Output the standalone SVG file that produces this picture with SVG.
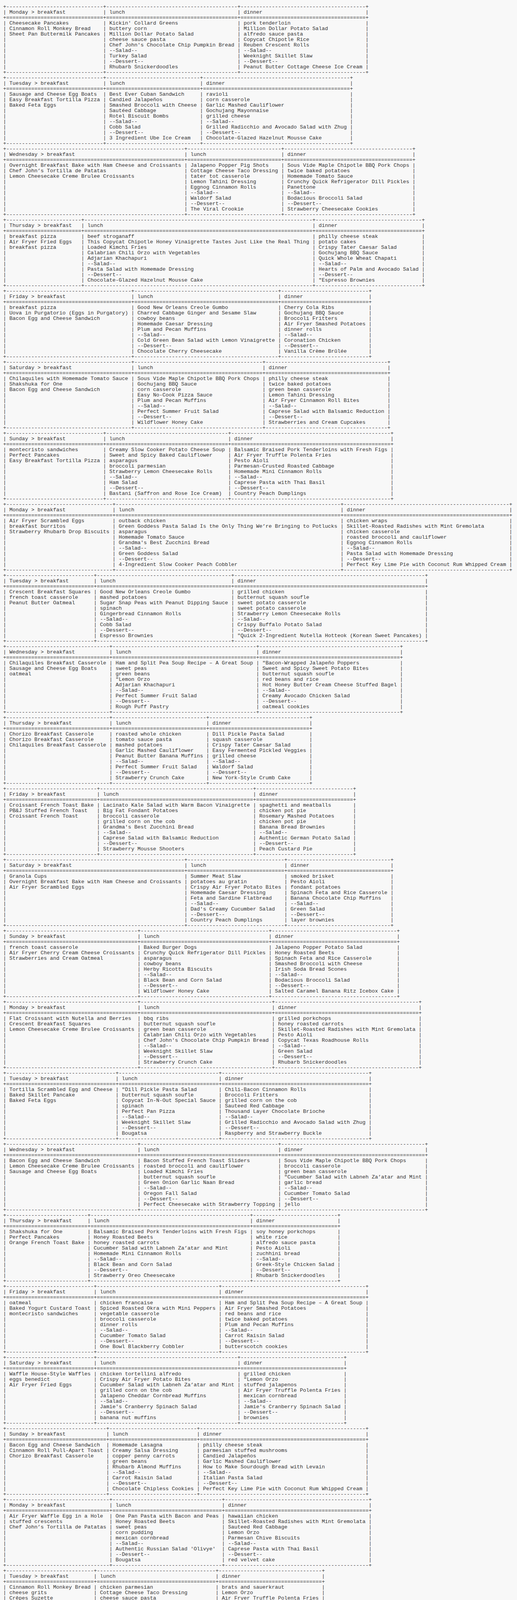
<svg xmlns="http://www.w3.org/2000/svg" xmlns:xlink="http://www.w3.org/1999/xlink" width="1324" height="5480" viewBox="0 0 1324 5480">
<style>
text { font-family: "Liberation Mono", "DejaVu Sans Mono", monospace; font-size: 13.333px; fill: #333333; }
</style>
<rect x="0" y="0" width="1324" height="5480" fill="#f8f8f8"/>
<g id="connectors"/>

<g id="w1-monday" transform="translate(0,0)">
<text id="w1-monday-border" y="21"><tspan x="8" textLength="256">+-------------------------------</tspan><tspan x="264" textLength="344">+------------------------------------------</tspan><tspan x="608" textLength="328">+----------------------------------------</tspan><tspan x="936">+</tspan></text>
<text y="35"><tspan x="8">| Monday &gt; breakfast</tspan><tspan x="264">| lunch</tspan><tspan x="608">| dinner</tspan><tspan x="936">|</tspan></text>
<text y="49"><tspan x="8" textLength="256">+===============================</tspan><tspan x="264" textLength="344">+==========================================</tspan><tspan x="608" textLength="328">+========================================</tspan><tspan x="936">+</tspan></text>
<text y="63"><tspan x="8">| Cheesecake Pancakes</tspan><tspan x="264">| Kickin' Collard Greens</tspan><tspan x="608">| pork tenderloin</tspan><tspan x="936">|</tspan></text>
<text y="77"><tspan x="8">| Cinnamon Roll Monkey Bread</tspan><tspan x="264">| buttery corn</tspan><tspan x="608">| Million Dollar Potato Salad</tspan><tspan x="936">|</tspan></text>
<text y="91"><tspan x="8">| Sheet Pan Buttermilk Pancakes</tspan><tspan x="264">| Million Dollar Potato Salad</tspan><tspan x="608">| alfredo sauce pasta</tspan><tspan x="936">|</tspan></text>
<text y="105"><tspan x="8">|</tspan><tspan x="264">| cheese sauce pasta</tspan><tspan x="608">| Copycat Chipotle Rice</tspan><tspan x="936">|</tspan></text>
<text y="119"><tspan x="8">|</tspan><tspan x="264">| Chef John's Chocolate Chip Pumpkin Bread</tspan><tspan x="608">| Reuben Crescent Rolls</tspan><tspan x="936">|</tspan></text>
<text y="133"><tspan x="8">|</tspan><tspan x="264">| --Salad--</tspan><tspan x="608">| --Salad--</tspan><tspan x="936">|</tspan></text>
<text y="147"><tspan x="8">|</tspan><tspan x="264">| Turkey Salad</tspan><tspan x="608">| Weeknight Skillet Slaw</tspan><tspan x="936">|</tspan></text>
<text y="161"><tspan x="8">|</tspan><tspan x="264">| --Dessert--</tspan><tspan x="608">| --Dessert--</tspan><tspan x="936">|</tspan></text>
<text y="175"><tspan x="8">|</tspan><tspan x="264">| Rhubarb Snickerdoodles</tspan><tspan x="608">| Peanut Butter Cottage Cheese Ice Cream</tspan><tspan x="936">|</tspan></text>
<use href="#w1-monday-border" y="168"/>
</g>

<g id="w1-tuesday" transform="translate(0,182)">
<text id="w1-tuesday-border" y="21"><tspan x="8" textLength="256">+-------------------------------</tspan><tspan x="264" textLength="248">+------------------------------</tspan><tspan x="512" textLength="384">+-----------------------------------------------</tspan><tspan x="896">+</tspan></text>
<text y="35"><tspan x="8">| Tuesday &gt; breakfast</tspan><tspan x="264">| lunch</tspan><tspan x="512">| dinner</tspan><tspan x="896">|</tspan></text>
<text y="49"><tspan x="8" textLength="256">+===============================</tspan><tspan x="264" textLength="248">+==============================</tspan><tspan x="512" textLength="384">+===============================================</tspan><tspan x="896">+</tspan></text>
<text y="63"><tspan x="8">| Sausage and Cheese Egg Boats</tspan><tspan x="264">| Best Ever Cuban Sandwich</tspan><tspan x="512">| ravioli</tspan><tspan x="896">|</tspan></text>
<text y="77"><tspan x="8">| Easy Breakfast Tortilla Pizza</tspan><tspan x="264">| Candied Jalapeños</tspan><tspan x="512">| corn casserole</tspan><tspan x="896">|</tspan></text>
<text y="91"><tspan x="8">| Baked Feta Eggs</tspan><tspan x="264">| Smashed Broccoli with Cheese</tspan><tspan x="512">| Garlic Mashed Cauliflower</tspan><tspan x="896">|</tspan></text>
<text y="105"><tspan x="8">|</tspan><tspan x="264">| Sautéed Cabbage</tspan><tspan x="512">| Gochujang Mayonnaise</tspan><tspan x="896">|</tspan></text>
<text y="119"><tspan x="8">|</tspan><tspan x="264">| Rotel Biscuit Bombs</tspan><tspan x="512">| grilled cheese</tspan><tspan x="896">|</tspan></text>
<text y="133"><tspan x="8">|</tspan><tspan x="264">| --Salad--</tspan><tspan x="512">| --Salad--</tspan><tspan x="896">|</tspan></text>
<text y="147"><tspan x="8">|</tspan><tspan x="264">| Cobb Salad</tspan><tspan x="512">| Grilled Radicchio and Avocado Salad with Zhug</tspan><tspan x="896">|</tspan></text>
<text y="161"><tspan x="8">|</tspan><tspan x="264">| --Dessert--</tspan><tspan x="512">| --Dessert--</tspan><tspan x="896">|</tspan></text>
<text y="175"><tspan x="8">|</tspan><tspan x="264">| 3 Ingredient Ube Ice Cream</tspan><tspan x="512">| Chocolate-Glazed Hazelnut Mousse Cake</tspan><tspan x="896">|</tspan></text>
<use href="#w1-tuesday-border" y="168"/>
</g>

<g id="w1-wednesday" transform="translate(0,364)">
<text id="w1-wednesday-border" y="21"><tspan x="8" textLength="464">+---------------------------------------------------------</tspan><tspan x="472" textLength="248">+------------------------------</tspan><tspan x="720" textLength="336">+-----------------------------------------</tspan><tspan x="1056">+</tspan></text>
<text y="35"><tspan x="8">| Wednesday &gt; breakfast</tspan><tspan x="472">| lunch</tspan><tspan x="720">| dinner</tspan><tspan x="1056">|</tspan></text>
<text y="49"><tspan x="8" textLength="464">+=========================================================</tspan><tspan x="472" textLength="248">+==============================</tspan><tspan x="720" textLength="336">+=========================================</tspan><tspan x="1056">+</tspan></text>
<text y="63"><tspan x="8">| Overnight Breakfast Bake with Ham Cheese and Croissants</tspan><tspan x="472">| Jalapeno Popper Pig Shots</tspan><tspan x="720">| Sous Vide Maple Chipotle BBQ Pork Chops</tspan><tspan x="1056">|</tspan></text>
<text y="77"><tspan x="8">| Chef John’s Tortilla de Patatas</tspan><tspan x="472">| Cottage Cheese Taco Dressing</tspan><tspan x="720">| twice baked potatoes</tspan><tspan x="1056">|</tspan></text>
<text y="91"><tspan x="8">| Lemon Cheesecake Creme Brulee Croissants</tspan><tspan x="472">| tater tot casserole</tspan><tspan x="720">| Homemade Tomato Sauce</tspan><tspan x="1056">|</tspan></text>
<text y="105"><tspan x="8">|</tspan><tspan x="472">| Lemon Tahini Dressing</tspan><tspan x="720">| Crunchy Quick Refrigerator Dill Pickles</tspan><tspan x="1056">|</tspan></text>
<text y="119"><tspan x="8">|</tspan><tspan x="472">| Eggnog Cinnamon Rolls</tspan><tspan x="720">| Panettone</tspan><tspan x="1056">|</tspan></text>
<text y="133"><tspan x="8">|</tspan><tspan x="472">| --Salad--</tspan><tspan x="720">| --Salad--</tspan><tspan x="1056">|</tspan></text>
<text y="147"><tspan x="8">|</tspan><tspan x="472">| Waldorf Salad</tspan><tspan x="720">| Bodacious Broccoli Salad</tspan><tspan x="1056">|</tspan></text>
<text y="161"><tspan x="8">|</tspan><tspan x="472">| --Dessert--</tspan><tspan x="720">| --Dessert--</tspan><tspan x="1056">|</tspan></text>
<text y="175"><tspan x="8">|</tspan><tspan x="472">| The Viral Crookie</tspan><tspan x="720">| Strawberry Cheesecake Cookies</tspan><tspan x="1056">|</tspan></text>
<use href="#w1-wednesday-border" y="168"/>
</g>

<g id="w1-thursday" transform="translate(0,546)">
<text id="w1-thursday-border" y="21"><tspan x="8" textLength="200">+------------------------</tspan><tspan x="208" textLength="592">+-------------------------------------------------------------------------</tspan><tspan x="800" textLength="280">+----------------------------------</tspan><tspan x="1080">+</tspan></text>
<text y="35"><tspan x="8">| Thursday &gt; breakfast</tspan><tspan x="208">| lunch</tspan><tspan x="800">| dinner</tspan><tspan x="1080">|</tspan></text>
<text y="49"><tspan x="8" textLength="200">+========================</tspan><tspan x="208" textLength="592">+=========================================================================</tspan><tspan x="800" textLength="280">+==================================</tspan><tspan x="1080">+</tspan></text>
<text y="63"><tspan x="8">| breakfast pizza</tspan><tspan x="208">| beef stroganaff</tspan><tspan x="800">| philly cheese steak</tspan><tspan x="1080">|</tspan></text>
<text y="77"><tspan x="8">| Air Fryer Fried Eggs</tspan><tspan x="208">| This Copycat Chipotle Honey Vinaigrette Tastes Just Like the Real Thing</tspan><tspan x="800">| potato cakes</tspan><tspan x="1080">|</tspan></text>
<text y="91"><tspan x="8">| breakfast pizza</tspan><tspan x="208">| Loaded Kimchi Fries</tspan><tspan x="800">| Crispy Tater Caesar Salad</tspan><tspan x="1080">|</tspan></text>
<text y="105"><tspan x="8">|</tspan><tspan x="208">| Calabrian Chili Orzo with Vegetables</tspan><tspan x="800">| Gochujang BBQ Sauce</tspan><tspan x="1080">|</tspan></text>
<text y="119"><tspan x="8">|</tspan><tspan x="208">| Adjarian Khachapuri</tspan><tspan x="800">| Quick Whole Wheat Chapati</tspan><tspan x="1080">|</tspan></text>
<text y="133"><tspan x="8">|</tspan><tspan x="208">| --Salad--</tspan><tspan x="800">| --Salad--</tspan><tspan x="1080">|</tspan></text>
<text y="147"><tspan x="8">|</tspan><tspan x="208">| Pasta Salad with Homemade Dressing</tspan><tspan x="800">| Hearts of Palm and Avocado Salad</tspan><tspan x="1080">|</tspan></text>
<text y="161"><tspan x="8">|</tspan><tspan x="208">| --Dessert--</tspan><tspan x="800">| --Dessert--</tspan><tspan x="1080">|</tspan></text>
<text y="175"><tspan x="8">|</tspan><tspan x="208">| Chocolate-Glazed Hazelnut Mousse Cake</tspan><tspan x="800">| "Espresso Brownies</tspan><tspan x="1080">|</tspan></text>
<use href="#w1-thursday-border" y="168"/>
</g>

<g id="w1-friday" transform="translate(0,728)">
<text id="w1-friday-border" y="21"><tspan x="8" textLength="328">+----------------------------------------</tspan><tspan x="336" textLength="376">+----------------------------------------------</tspan><tspan x="712" textLength="232">+----------------------------</tspan><tspan x="944">+</tspan></text>
<text y="35"><tspan x="8">| Friday &gt; breakfast</tspan><tspan x="336">| lunch</tspan><tspan x="712">| dinner</tspan><tspan x="944">|</tspan></text>
<text y="49"><tspan x="8" textLength="328">+========================================</tspan><tspan x="336" textLength="376">+==============================================</tspan><tspan x="712" textLength="232">+============================</tspan><tspan x="944">+</tspan></text>
<text y="63"><tspan x="8">| breakfast pizza</tspan><tspan x="336">| Good New Orleans Creole Gumbo</tspan><tspan x="712">| Cherry Cola Ribs</tspan><tspan x="944">|</tspan></text>
<text y="77"><tspan x="8">| Uova in Purgatorio (Eggs in Purgatory)</tspan><tspan x="336">| Charred Cabbage Ginger and Sesame Slaw</tspan><tspan x="712">| Gochujang BBQ Sauce</tspan><tspan x="944">|</tspan></text>
<text y="91"><tspan x="8">| Bacon Egg and Cheese Sandwich</tspan><tspan x="336">| cowboy beans</tspan><tspan x="712">| Broccoli Fritters</tspan><tspan x="944">|</tspan></text>
<text y="105"><tspan x="8">|</tspan><tspan x="336">| Homemade Caesar Dressing</tspan><tspan x="712">| Air Fryer Smashed Potatoes</tspan><tspan x="944">|</tspan></text>
<text y="119"><tspan x="8">|</tspan><tspan x="336">| Plum and Pecan Muffins</tspan><tspan x="712">| dinner rolls</tspan><tspan x="944">|</tspan></text>
<text y="133"><tspan x="8">|</tspan><tspan x="336">| --Salad--</tspan><tspan x="712">| --Salad--</tspan><tspan x="944">|</tspan></text>
<text y="147"><tspan x="8">|</tspan><tspan x="336">| Cold Green Bean Salad with Lemon Vinaigrette</tspan><tspan x="712">| Coronation Chicken</tspan><tspan x="944">|</tspan></text>
<text y="161"><tspan x="8">|</tspan><tspan x="336">| --Dessert--</tspan><tspan x="712">| --Dessert--</tspan><tspan x="944">|</tspan></text>
<text y="175"><tspan x="8">|</tspan><tspan x="336">| Chocolate Cherry Cheesecake</tspan><tspan x="712">| Vanilla Crème Brûlée</tspan><tspan x="944">|</tspan></text>
<use href="#w1-friday-border" y="168"/>
</g>

<g id="w1-saturday" transform="translate(0,910)">
<text id="w1-saturday-border" y="21"><tspan x="8" textLength="328">+----------------------------------------</tspan><tspan x="336" textLength="336">+-----------------------------------------</tspan><tspan x="672" textLength="320">+---------------------------------------</tspan><tspan x="992">+</tspan></text>
<text y="35"><tspan x="8">| Saturday &gt; breakfast</tspan><tspan x="336">| lunch</tspan><tspan x="672">| dinner</tspan><tspan x="992">|</tspan></text>
<text y="49"><tspan x="8" textLength="328">+========================================</tspan><tspan x="336" textLength="336">+=========================================</tspan><tspan x="672" textLength="320">+=======================================</tspan><tspan x="992">+</tspan></text>
<text y="63"><tspan x="8">| Chilaquiles with Homemade Tomato Sauce</tspan><tspan x="336">| Sous Vide Maple Chipotle BBQ Pork Chops</tspan><tspan x="672">| philly cheese steak</tspan><tspan x="992">|</tspan></text>
<text y="77"><tspan x="8">| Shakshuka for One</tspan><tspan x="336">| Gochujang BBQ Sauce</tspan><tspan x="672">| twice baked potatoes</tspan><tspan x="992">|</tspan></text>
<text y="91"><tspan x="8">| Bacon Egg and Cheese Sandwich</tspan><tspan x="336">| corn casserole</tspan><tspan x="672">| green bean casserole</tspan><tspan x="992">|</tspan></text>
<text y="105"><tspan x="8">|</tspan><tspan x="336">| Easy No-Cook Pizza Sauce</tspan><tspan x="672">| Lemon Tahini Dressing</tspan><tspan x="992">|</tspan></text>
<text y="119"><tspan x="8">|</tspan><tspan x="336">| Plum and Pecan Muffins</tspan><tspan x="672">| Air Fryer Cinnamon Roll Bites</tspan><tspan x="992">|</tspan></text>
<text y="133"><tspan x="8">|</tspan><tspan x="336">| --Salad--</tspan><tspan x="672">| --Salad--</tspan><tspan x="992">|</tspan></text>
<text y="147"><tspan x="8">|</tspan><tspan x="336">| Perfect Summer Fruit Salad</tspan><tspan x="672">| Caprese Salad with Balsamic Reduction</tspan><tspan x="992">|</tspan></text>
<text y="161"><tspan x="8">|</tspan><tspan x="336">| --Dessert--</tspan><tspan x="672">| --Dessert--</tspan><tspan x="992">|</tspan></text>
<text y="175"><tspan x="8">|</tspan><tspan x="336">| Wildflower Honey Cake</tspan><tspan x="672">| Strawberries and Cream Cupcakes</tspan><tspan x="992">|</tspan></text>
<use href="#w1-saturday-border" y="168"/>
</g>

<g id="w1-sunday" transform="translate(0,1092)">
<text id="w1-sunday-border" y="21"><tspan x="8" textLength="256">+-------------------------------</tspan><tspan x="264" textLength="320">+---------------------------------------</tspan><tspan x="584" textLength="416">+---------------------------------------------------</tspan><tspan x="1000">+</tspan></text>
<text y="35"><tspan x="8">| Sunday &gt; breakfast</tspan><tspan x="264">| lunch</tspan><tspan x="584">| dinner</tspan><tspan x="1000">|</tspan></text>
<text y="49"><tspan x="8" textLength="256">+===============================</tspan><tspan x="264" textLength="320">+=======================================</tspan><tspan x="584" textLength="416">+===================================================</tspan><tspan x="1000">+</tspan></text>
<text y="63"><tspan x="8">| montecristo sandwiches</tspan><tspan x="264">| Creamy Slow Cooker Potato Cheese Soup</tspan><tspan x="584">| Balsamic Braised Pork Tenderloins with Fresh Figs</tspan><tspan x="1000">|</tspan></text>
<text y="77"><tspan x="8">| Perfect Pancakes</tspan><tspan x="264">| Sweet and Spicy Baked Cauliflower</tspan><tspan x="584">| Air Fryer Truffle Polenta Fries</tspan><tspan x="1000">|</tspan></text>
<text y="91"><tspan x="8">| Easy Breakfast Tortilla Pizza</tspan><tspan x="264">| asparagus</tspan><tspan x="584">| Pesto Aioli</tspan><tspan x="1000">|</tspan></text>
<text y="105"><tspan x="8">|</tspan><tspan x="264">| broccoli parmesian</tspan><tspan x="584">| Parmesan-Crusted Roasted Cabbage</tspan><tspan x="1000">|</tspan></text>
<text y="119"><tspan x="8">|</tspan><tspan x="264">| Strawberry Lemon Cheesecake Rolls</tspan><tspan x="584">| Homemade Mini Cinnamon Rolls</tspan><tspan x="1000">|</tspan></text>
<text y="133"><tspan x="8">|</tspan><tspan x="264">| --Salad--</tspan><tspan x="584">| --Salad--</tspan><tspan x="1000">|</tspan></text>
<text y="147"><tspan x="8">|</tspan><tspan x="264">| Ham Salad</tspan><tspan x="584">| Caprese Pasta with Thai Basil</tspan><tspan x="1000">|</tspan></text>
<text y="161"><tspan x="8">|</tspan><tspan x="264">| --Dessert--</tspan><tspan x="584">| --Dessert--</tspan><tspan x="1000">|</tspan></text>
<text y="175"><tspan x="8">|</tspan><tspan x="264">| Bastani (Saffron and Rose Ice Cream)</tspan><tspan x="584">| Country Peach Dumplings</tspan><tspan x="1000">|</tspan></text>
<use href="#w1-sunday-border" y="168"/>
</g>

<g id="w2-monday" transform="translate(0,1274)">
<text id="w2-monday-border" y="21"><tspan x="8" textLength="280">+----------------------------------</tspan><tspan x="288" textLength="584">+------------------------------------------------------------------------</tspan><tspan x="872" textLength="432">+-----------------------------------------------------</tspan><tspan x="1304">+</tspan></text>
<text y="35"><tspan x="8">| Monday &gt; breakfast</tspan><tspan x="288">| lunch</tspan><tspan x="872">| dinner</tspan><tspan x="1304">|</tspan></text>
<text y="49"><tspan x="8" textLength="280">+==================================</tspan><tspan x="288" textLength="584">+========================================================================</tspan><tspan x="872" textLength="432">+=====================================================</tspan><tspan x="1304">+</tspan></text>
<text y="63"><tspan x="8">| Air Fryer Scrambled Eggs</tspan><tspan x="288">| outback chicken</tspan><tspan x="872">| chicken wraps</tspan><tspan x="1304">|</tspan></text>
<text y="77"><tspan x="8">| breakfast burritos</tspan><tspan x="288">| Green Goddess Pasta Salad Is the Only Thing We’re Bringing to Potlucks</tspan><tspan x="872">| Skillet-Roasted Radishes with Mint Gremolata</tspan><tspan x="1304">|</tspan></text>
<text y="91"><tspan x="8">| Strawberry Rhubarb Drop Biscuits</tspan><tspan x="288">| asparagus</tspan><tspan x="872">| chicken casserole</tspan><tspan x="1304">|</tspan></text>
<text y="105"><tspan x="8">|</tspan><tspan x="288">| Homemade Tomato Sauce</tspan><tspan x="872">| roasted broccoli and cauliflower</tspan><tspan x="1304">|</tspan></text>
<text y="119"><tspan x="8">|</tspan><tspan x="288">| Grandma's Best Zucchini Bread</tspan><tspan x="872">| Eggnog Cinnamon Rolls</tspan><tspan x="1304">|</tspan></text>
<text y="133"><tspan x="8">|</tspan><tspan x="288">| --Salad--</tspan><tspan x="872">| --Salad--</tspan><tspan x="1304">|</tspan></text>
<text y="147"><tspan x="8">|</tspan><tspan x="288">| Green Goddess Salad</tspan><tspan x="872">| Pasta Salad with Homemade Dressing</tspan><tspan x="1304">|</tspan></text>
<text y="161"><tspan x="8">|</tspan><tspan x="288">| --Dessert--</tspan><tspan x="872">| --Dessert--</tspan><tspan x="1304">|</tspan></text>
<text y="175"><tspan x="8">|</tspan><tspan x="288">| 4-Ingredient Slow Cooker Peach Cobbler</tspan><tspan x="872">| Perfect Key Lime Pie with Coconut Rum Whipped Cream</tspan><tspan x="1304">|</tspan></text>
<use href="#w2-monday-border" y="168"/>
</g>

<g id="w2-tuesday" transform="translate(0,1456)">
<text id="w2-tuesday-border" y="21"><tspan x="8" textLength="232">+----------------------------</tspan><tspan x="240" textLength="352">+-------------------------------------------</tspan><tspan x="592" textLength="496">+-------------------------------------------------------------</tspan><tspan x="1088">+</tspan></text>
<text y="35"><tspan x="8">| Tuesday &gt; breakfast</tspan><tspan x="240">| lunch</tspan><tspan x="592">| dinner</tspan><tspan x="1088">|</tspan></text>
<text y="49"><tspan x="8" textLength="232">+============================</tspan><tspan x="240" textLength="352">+===========================================</tspan><tspan x="592" textLength="496">+=============================================================</tspan><tspan x="1088">+</tspan></text>
<text y="63"><tspan x="8">| Crescent Breakfast Squares</tspan><tspan x="240">| Good New Orleans Creole Gumbo</tspan><tspan x="592">| grilled chicken</tspan><tspan x="1088">|</tspan></text>
<text y="77"><tspan x="8">| french toast casserole</tspan><tspan x="240">| mashed potatoes</tspan><tspan x="592">| butternut squash soufle</tspan><tspan x="1088">|</tspan></text>
<text y="91"><tspan x="8">| Peanut Butter Oatmeal</tspan><tspan x="240">| Sugar Snap Peas with Peanut Dipping Sauce</tspan><tspan x="592">| sweet potato casserole</tspan><tspan x="1088">|</tspan></text>
<text y="105"><tspan x="8">|</tspan><tspan x="240">| spinach</tspan><tspan x="592">| sweet potato casserole</tspan><tspan x="1088">|</tspan></text>
<text y="119"><tspan x="8">|</tspan><tspan x="240">| Gingerbread Cinnamon Rolls</tspan><tspan x="592">| Strawberry Lemon Cheesecake Rolls</tspan><tspan x="1088">|</tspan></text>
<text y="133"><tspan x="8">|</tspan><tspan x="240">| --Salad--</tspan><tspan x="592">| --Salad--</tspan><tspan x="1088">|</tspan></text>
<text y="147"><tspan x="8">|</tspan><tspan x="240">| Cobb Salad</tspan><tspan x="592">| Crispy Buffalo Potato Salad</tspan><tspan x="1088">|</tspan></text>
<text y="161"><tspan x="8">|</tspan><tspan x="240">| --Dessert--</tspan><tspan x="592">| --Dessert--</tspan><tspan x="1088">|</tspan></text>
<text y="175"><tspan x="8">|</tspan><tspan x="240">| Espresso Brownies</tspan><tspan x="592">| "Quick 2-Ingredient Nutella Hotteok (Korean Sweet Pancakes)</tspan><tspan x="1088">|</tspan></text>
<use href="#w2-tuesday-border" y="168"/>
</g>

<g id="w2-wednesday" transform="translate(0,1638)">
<text id="w2-wednesday-border" y="21"><tspan x="8" textLength="272">+---------------------------------</tspan><tspan x="280" textLength="376">+----------------------------------------------</tspan><tspan x="656" textLength="368">+---------------------------------------------</tspan><tspan x="1024">+</tspan></text>
<text y="35"><tspan x="8">| Wednesday &gt; breakfast</tspan><tspan x="280">| lunch</tspan><tspan x="656">| dinner</tspan><tspan x="1024">|</tspan></text>
<text y="49"><tspan x="8" textLength="272">+=================================</tspan><tspan x="280" textLength="376">+==============================================</tspan><tspan x="656" textLength="368">+=============================================</tspan><tspan x="1024">+</tspan></text>
<text y="63"><tspan x="8">| Chilaquiles Breakfast Casserole</tspan><tspan x="280">| Ham and Split Pea Soup Recipe – A Great Soup</tspan><tspan x="656">| "Bacon-Wrapped Jalapeño Poppers</tspan><tspan x="1024">|</tspan></text>
<text y="77"><tspan x="8">| Sausage and Cheese Egg Boats</tspan><tspan x="280">| sweet peas</tspan><tspan x="656">| Sweet and Spicy Sweet Potato Bites</tspan><tspan x="1024">|</tspan></text>
<text y="91"><tspan x="8">| oatmeal</tspan><tspan x="280">| green beans</tspan><tspan x="656">| butternut squash soufle</tspan><tspan x="1024">|</tspan></text>
<text y="105"><tspan x="8">|</tspan><tspan x="280">| "Lemon Orzo</tspan><tspan x="656">| red beans and rice</tspan><tspan x="1024">|</tspan></text>
<text y="119"><tspan x="8">|</tspan><tspan x="280">| Adjarian Khachapuri</tspan><tspan x="656">| Hot Honey Butter Cream Cheese Stuffed Bagel</tspan><tspan x="1024">|</tspan></text>
<text y="133"><tspan x="8">|</tspan><tspan x="280">| --Salad--</tspan><tspan x="656">| --Salad--</tspan><tspan x="1024">|</tspan></text>
<text y="147"><tspan x="8">|</tspan><tspan x="280">| Perfect Summer Fruit Salad</tspan><tspan x="656">| Creamy Avocado Chicken Salad</tspan><tspan x="1024">|</tspan></text>
<text y="161"><tspan x="8">|</tspan><tspan x="280">| --Dessert--</tspan><tspan x="656">| --Dessert--</tspan><tspan x="1024">|</tspan></text>
<text y="175"><tspan x="8">|</tspan><tspan x="280">| Rough Puff Pastry</tspan><tspan x="656">| oatmeal cookies</tspan><tspan x="1024">|</tspan></text>
<use href="#w2-wednesday-border" y="168"/>
</g>

<g id="w2-thursday" transform="translate(0,1820)">
<text id="w2-thursday-border" y="21"><tspan x="8" textLength="272">+---------------------------------</tspan><tspan x="280" textLength="248">+------------------------------</tspan><tspan x="528" textLength="264">+--------------------------------</tspan><tspan x="792">+</tspan></text>
<text y="35"><tspan x="8">| Thursday &gt; breakfast</tspan><tspan x="280">| lunch</tspan><tspan x="528">| dinner</tspan><tspan x="792">|</tspan></text>
<text y="49"><tspan x="8" textLength="272">+=================================</tspan><tspan x="280" textLength="248">+==============================</tspan><tspan x="528" textLength="264">+================================</tspan><tspan x="792">+</tspan></text>
<text y="63"><tspan x="8">| Chorizo Breakfast Casserole</tspan><tspan x="280">| roasted whole chicken</tspan><tspan x="528">| Dill Pickle Pasta Salad</tspan><tspan x="792">|</tspan></text>
<text y="77"><tspan x="8">| Chorizo Breakfast Casserole</tspan><tspan x="280">| tomato sauce pasta</tspan><tspan x="528">| squash casserole</tspan><tspan x="792">|</tspan></text>
<text y="91"><tspan x="8">| Chilaquiles Breakfast Casserole</tspan><tspan x="280">| mashed potatoes</tspan><tspan x="528">| Crispy Tater Caesar Salad</tspan><tspan x="792">|</tspan></text>
<text y="105"><tspan x="8">|</tspan><tspan x="280">| Garlic Mashed Cauliflower</tspan><tspan x="528">| Easy Fermented Pickled Veggies</tspan><tspan x="792">|</tspan></text>
<text y="119"><tspan x="8">|</tspan><tspan x="280">| Peanut Butter Banana Muffins</tspan><tspan x="528">| grilled cheese</tspan><tspan x="792">|</tspan></text>
<text y="133"><tspan x="8">|</tspan><tspan x="280">| --Salad--</tspan><tspan x="528">| --Salad--</tspan><tspan x="792">|</tspan></text>
<text y="147"><tspan x="8">|</tspan><tspan x="280">| Perfect Summer Fruit Salad</tspan><tspan x="528">| Waldorf Salad</tspan><tspan x="792">|</tspan></text>
<text y="161"><tspan x="8">|</tspan><tspan x="280">| --Dessert--</tspan><tspan x="528">| --Dessert--</tspan><tspan x="792">|</tspan></text>
<text y="175"><tspan x="8">|</tspan><tspan x="280">| Strawberry Crunch Cake</tspan><tspan x="528">| New York-Style Crumb Cake</tspan><tspan x="792">|</tspan></text>
<use href="#w2-thursday-border" y="168"/>
</g>

<g id="w2-friday" transform="translate(0,2002)">
<text id="w2-friday-border" y="21"><tspan x="8" textLength="240">+-----------------------------</tspan><tspan x="248" textLength="400">+-------------------------------------------------</tspan><tspan x="648" textLength="256">+-------------------------------</tspan><tspan x="904">+</tspan></text>
<text y="35"><tspan x="8">| Friday &gt; breakfast</tspan><tspan x="248">| lunch</tspan><tspan x="648">| dinner</tspan><tspan x="904">|</tspan></text>
<text y="49"><tspan x="8" textLength="240">+=============================</tspan><tspan x="248" textLength="400">+=================================================</tspan><tspan x="648" textLength="256">+===============================</tspan><tspan x="904">+</tspan></text>
<text y="63"><tspan x="8">| Croissant French Toast Bake</tspan><tspan x="248">| Lacinato Kale Salad with Warm Bacon Vinaigrette</tspan><tspan x="648">| spaghetti and meatballs</tspan><tspan x="904">|</tspan></text>
<text y="77"><tspan x="8">| PB&amp;J Stuffed French Toast</tspan><tspan x="248">| Big Fat Fondant Potatoes</tspan><tspan x="648">| chicken pot pie</tspan><tspan x="904">|</tspan></text>
<text y="91"><tspan x="8">| Croissant French Toast</tspan><tspan x="248">| broccoli casserole</tspan><tspan x="648">| Rosemary Mashed Potatoes</tspan><tspan x="904">|</tspan></text>
<text y="105"><tspan x="8">|</tspan><tspan x="248">| grilled corn on the cob</tspan><tspan x="648">| chicken pot pie</tspan><tspan x="904">|</tspan></text>
<text y="119"><tspan x="8">|</tspan><tspan x="248">| Grandma's Best Zucchini Bread</tspan><tspan x="648">| Banana Bread Brownies</tspan><tspan x="904">|</tspan></text>
<text y="133"><tspan x="8">|</tspan><tspan x="248">| --Salad--</tspan><tspan x="648">| --Salad--</tspan><tspan x="904">|</tspan></text>
<text y="147"><tspan x="8">|</tspan><tspan x="248">| Caprese Salad with Balsamic Reduction</tspan><tspan x="648">| Authentic German Potato Salad</tspan><tspan x="904">|</tspan></text>
<text y="161"><tspan x="8">|</tspan><tspan x="248">| --Dessert--</tspan><tspan x="648">| --Dessert--</tspan><tspan x="904">|</tspan></text>
<text y="175"><tspan x="8">|</tspan><tspan x="248">| Strawberry Mousse Shooters</tspan><tspan x="648">| Peach Custard Pie</tspan><tspan x="904">|</tspan></text>
<use href="#w2-friday-border" y="168"/>
</g>

<g id="w2-saturday" transform="translate(0,2184)">
<text id="w2-saturday-border" y="21"><tspan x="8" textLength="464">+---------------------------------------------------------</tspan><tspan x="472" textLength="256">+-------------------------------</tspan><tspan x="728" textLength="272">+---------------------------------</tspan><tspan x="1000">+</tspan></text>
<text y="35"><tspan x="8">| Saturday &gt; breakfast</tspan><tspan x="472">| lunch</tspan><tspan x="728">| dinner</tspan><tspan x="1000">|</tspan></text>
<text y="49"><tspan x="8" textLength="464">+=========================================================</tspan><tspan x="472" textLength="256">+===============================</tspan><tspan x="728" textLength="272">+=================================</tspan><tspan x="1000">+</tspan></text>
<text y="63"><tspan x="8">| Granola Cups</tspan><tspan x="472">| Summer Meat Slaw</tspan><tspan x="728">| smoked brisket</tspan><tspan x="1000">|</tspan></text>
<text y="77"><tspan x="8">| Overnight Breakfast Bake with Ham Cheese and Croissants</tspan><tspan x="472">| potatoes au gratin</tspan><tspan x="728">| Pesto Aioli</tspan><tspan x="1000">|</tspan></text>
<text y="91"><tspan x="8">| Air Fryer Scrambled Eggs</tspan><tspan x="472">| Crispy Air Fryer Potato Bites</tspan><tspan x="728">| fondant potatoes</tspan><tspan x="1000">|</tspan></text>
<text y="105"><tspan x="8">|</tspan><tspan x="472">| Homemade Caesar Dressing</tspan><tspan x="728">| Spinach Feta and Rice Casserole</tspan><tspan x="1000">|</tspan></text>
<text y="119"><tspan x="8">|</tspan><tspan x="472">| Feta and Sardine Flatbread</tspan><tspan x="728">| Banana Chocolate Chip Muffins</tspan><tspan x="1000">|</tspan></text>
<text y="133"><tspan x="8">|</tspan><tspan x="472">| --Salad--</tspan><tspan x="728">| --Salad--</tspan><tspan x="1000">|</tspan></text>
<text y="147"><tspan x="8">|</tspan><tspan x="472">| Dad's Creamy Cucumber Salad</tspan><tspan x="728">| Green Salad</tspan><tspan x="1000">|</tspan></text>
<text y="161"><tspan x="8">|</tspan><tspan x="472">| --Dessert--</tspan><tspan x="728">| --Dessert--</tspan><tspan x="1000">|</tspan></text>
<text y="175"><tspan x="8">|</tspan><tspan x="472">| Country Peach Dumplings</tspan><tspan x="728">| layer brownies</tspan><tspan x="1000">|</tspan></text>
<use href="#w2-saturday-border" y="168"/>
</g>

<g id="w2-sunday" transform="translate(0,2366)">
<text id="w2-sunday-border" y="21"><tspan x="8" textLength="344">+------------------------------------------</tspan><tspan x="352" textLength="336">+-----------------------------------------</tspan><tspan x="688" textLength="328">+----------------------------------------</tspan><tspan x="1016">+</tspan></text>
<text y="35"><tspan x="8">| Sunday &gt; breakfast</tspan><tspan x="352">| lunch</tspan><tspan x="688">| dinner</tspan><tspan x="1016">|</tspan></text>
<text y="49"><tspan x="8" textLength="344">+==========================================</tspan><tspan x="352" textLength="336">+=========================================</tspan><tspan x="688" textLength="328">+========================================</tspan><tspan x="1016">+</tspan></text>
<text y="63"><tspan x="8">| french toast casserole</tspan><tspan x="352">| Baked Burger Dogs</tspan><tspan x="688">| Jalapeno Popper Potato Salad</tspan><tspan x="1016">|</tspan></text>
<text y="77"><tspan x="8">| Air Fryer Cherry Cream Cheese Croissants</tspan><tspan x="352">| Crunchy Quick Refrigerator Dill Pickles</tspan><tspan x="688">| Honey Roasted Beets</tspan><tspan x="1016">|</tspan></text>
<text y="91"><tspan x="8">| Strawberries and Cream Oatmeal</tspan><tspan x="352">| asparagus</tspan><tspan x="688">| Spinach Feta and Rice Casserole</tspan><tspan x="1016">|</tspan></text>
<text y="105"><tspan x="8">|</tspan><tspan x="352">| cowboy beans</tspan><tspan x="688">| Smashed Broccoli with Cheese</tspan><tspan x="1016">|</tspan></text>
<text y="119"><tspan x="8">|</tspan><tspan x="352">| Herby Ricotta Biscuits</tspan><tspan x="688">| Irish Soda Bread Scones</tspan><tspan x="1016">|</tspan></text>
<text y="133"><tspan x="8">|</tspan><tspan x="352">| --Salad--</tspan><tspan x="688">| --Salad--</tspan><tspan x="1016">|</tspan></text>
<text y="147"><tspan x="8">|</tspan><tspan x="352">| Black Bean and Corn Salad</tspan><tspan x="688">| Bodacious Broccoli Salad</tspan><tspan x="1016">|</tspan></text>
<text y="161"><tspan x="8">|</tspan><tspan x="352">| --Dessert--</tspan><tspan x="688">| --Dessert--</tspan><tspan x="1016">|</tspan></text>
<text y="175"><tspan x="8">|</tspan><tspan x="352">| Wildflower Honey Cake</tspan><tspan x="688">| Salted Caramel Banana Ritz Icebox Cake</tspan><tspan x="1016">|</tspan></text>
<use href="#w2-sunday-border" y="168"/>
</g>

<g id="w3-monday" transform="translate(0,2548)">
<text id="w3-monday-border" y="21"><tspan x="8" textLength="344">+------------------------------------------</tspan><tspan x="352" textLength="344">+------------------------------------------</tspan><tspan x="696" textLength="376">+----------------------------------------------</tspan><tspan x="1072">+</tspan></text>
<text y="35"><tspan x="8">| Monday &gt; breakfast</tspan><tspan x="352">| lunch</tspan><tspan x="696">| dinner</tspan><tspan x="1072">|</tspan></text>
<text y="49"><tspan x="8" textLength="344">+==========================================</tspan><tspan x="352" textLength="344">+==========================================</tspan><tspan x="696" textLength="376">+==============================================</tspan><tspan x="1072">+</tspan></text>
<text y="63"><tspan x="8">| Flat Croissant with Nutella and Berries</tspan><tspan x="352">| bbq ribs</tspan><tspan x="696">| grilled porkchops</tspan><tspan x="1072">|</tspan></text>
<text y="77"><tspan x="8">| Crescent Breakfast Squares</tspan><tspan x="352">| butternut squash soufle</tspan><tspan x="696">| honey roasted carrots</tspan><tspan x="1072">|</tspan></text>
<text y="91"><tspan x="8">| Lemon Cheesecake Creme Brulee Croissants</tspan><tspan x="352">| green bean casserole</tspan><tspan x="696">| Skillet-Roasted Radishes with Mint Gremolata</tspan><tspan x="1072">|</tspan></text>
<text y="105"><tspan x="8">|</tspan><tspan x="352">| Calabrian Chili Orzo with Vegetables</tspan><tspan x="696">| Pesto Aioli</tspan><tspan x="1072">|</tspan></text>
<text y="119"><tspan x="8">|</tspan><tspan x="352">| Chef John's Chocolate Chip Pumpkin Bread</tspan><tspan x="696">| Copycat Texas Roadhouse Rolls</tspan><tspan x="1072">|</tspan></text>
<text y="133"><tspan x="8">|</tspan><tspan x="352">| --Salad--</tspan><tspan x="696">| --Salad--</tspan><tspan x="1072">|</tspan></text>
<text y="147"><tspan x="8">|</tspan><tspan x="352">| Weeknight Skillet Slaw</tspan><tspan x="696">| Green Salad</tspan><tspan x="1072">|</tspan></text>
<text y="161"><tspan x="8">|</tspan><tspan x="352">| --Dessert--</tspan><tspan x="696">| --Dessert--</tspan><tspan x="1072">|</tspan></text>
<text y="175"><tspan x="8">|</tspan><tspan x="352">| Strawberry Crunch Cake</tspan><tspan x="696">| Rhubarb Snickerdoodles</tspan><tspan x="1072">|</tspan></text>
<use href="#w3-monday-border" y="168"/>
</g>

<g id="w3-tuesday" transform="translate(0,2730)">
<text id="w3-tuesday-border" y="21"><tspan x="8" textLength="288">+-----------------------------------</tspan><tspan x="296" textLength="264">+--------------------------------</tspan><tspan x="560" textLength="384">+-----------------------------------------------</tspan><tspan x="944">+</tspan></text>
<text y="35"><tspan x="8">| Tuesday &gt; breakfast</tspan><tspan x="296">| lunch</tspan><tspan x="560">| dinner</tspan><tspan x="944">|</tspan></text>
<text y="49"><tspan x="8" textLength="288">+===================================</tspan><tspan x="296" textLength="264">+================================</tspan><tspan x="560" textLength="384">+===============================================</tspan><tspan x="944">+</tspan></text>
<text y="63"><tspan x="8">| Tortilla Scrambled Egg and Cheese</tspan><tspan x="296">| "Dill Pickle Pasta Salad</tspan><tspan x="560">| Chili-Bacon Cinnamon Rolls</tspan><tspan x="944">|</tspan></text>
<text y="77"><tspan x="8">| Baked Skillet Pancake</tspan><tspan x="296">| butternut squash soufle</tspan><tspan x="560">| Broccoli Fritters</tspan><tspan x="944">|</tspan></text>
<text y="91"><tspan x="8">| Baked Feta Eggs</tspan><tspan x="296">| Copycat In-N-Out Special Sauce</tspan><tspan x="560">| grilled corn on the cob</tspan><tspan x="944">|</tspan></text>
<text y="105"><tspan x="8">|</tspan><tspan x="296">| spinach</tspan><tspan x="560">| Sauteed Red Cabbage</tspan><tspan x="944">|</tspan></text>
<text y="119"><tspan x="8">|</tspan><tspan x="296">| Perfect Pan Pizza</tspan><tspan x="560">| Thousand Layer Chocolate Brioche</tspan><tspan x="944">|</tspan></text>
<text y="133"><tspan x="8">|</tspan><tspan x="296">| --Salad--</tspan><tspan x="560">| --Salad--</tspan><tspan x="944">|</tspan></text>
<text y="147"><tspan x="8">|</tspan><tspan x="296">| Weeknight Skillet Slaw</tspan><tspan x="560">| Grilled Radicchio and Avocado Salad with Zhug</tspan><tspan x="944">|</tspan></text>
<text y="161"><tspan x="8">|</tspan><tspan x="296">| --Dessert--</tspan><tspan x="560">| --Dessert--</tspan><tspan x="944">|</tspan></text>
<text y="175"><tspan x="8">|</tspan><tspan x="296">| Bougatsa</tspan><tspan x="560">| Raspberry and Strawberry Buckle</tspan><tspan x="944">|</tspan></text>
<use href="#w3-tuesday-border" y="168"/>
</g>

<g id="w3-wednesday" transform="translate(0,2912)">
<text id="w3-wednesday-border" y="21"><tspan x="8" textLength="344">+------------------------------------------</tspan><tspan x="352" textLength="360">+--------------------------------------------</tspan><tspan x="712" textLength="376">+----------------------------------------------</tspan><tspan x="1088">+</tspan></text>
<text y="35"><tspan x="8">| Wednesday &gt; breakfast</tspan><tspan x="352">| lunch</tspan><tspan x="712">| dinner</tspan><tspan x="1088">|</tspan></text>
<text y="49"><tspan x="8" textLength="344">+==========================================</tspan><tspan x="352" textLength="360">+============================================</tspan><tspan x="712" textLength="376">+==============================================</tspan><tspan x="1088">+</tspan></text>
<text y="63"><tspan x="8">| Bacon Egg and Cheese Sandwich</tspan><tspan x="352">| Bacon Stuffed French Toast Sliders</tspan><tspan x="712">| Sous Vide Maple Chipotle BBQ Pork Chops</tspan><tspan x="1088">|</tspan></text>
<text y="77"><tspan x="8">| Lemon Cheesecake Creme Brulee Croissants</tspan><tspan x="352">| roasted broccoli and cauliflower</tspan><tspan x="712">| broccoli casserole</tspan><tspan x="1088">|</tspan></text>
<text y="91"><tspan x="8">| Sausage and Cheese Egg Boats</tspan><tspan x="352">| Loaded Kimchi Fries</tspan><tspan x="712">| green bean casserole</tspan><tspan x="1088">|</tspan></text>
<text y="105"><tspan x="8">|</tspan><tspan x="352">| butternut squash soufle</tspan><tspan x="712">| "Cucumber Salad with Labneh Za’atar and Mint</tspan><tspan x="1088">|</tspan></text>
<text y="119"><tspan x="8">|</tspan><tspan x="352">| Green Onion Garlic Naan Bread</tspan><tspan x="712">| garlic bread</tspan><tspan x="1088">|</tspan></text>
<text y="133"><tspan x="8">|</tspan><tspan x="352">| --Salad--</tspan><tspan x="712">| --Salad--</tspan><tspan x="1088">|</tspan></text>
<text y="147"><tspan x="8">|</tspan><tspan x="352">| Oregon Fall Salad</tspan><tspan x="712">| Cucumber Tomato Salad</tspan><tspan x="1088">|</tspan></text>
<text y="161"><tspan x="8">|</tspan><tspan x="352">| --Dessert--</tspan><tspan x="712">| --Dessert--</tspan><tspan x="1088">|</tspan></text>
<text y="175"><tspan x="8">|</tspan><tspan x="352">| Perfect Cheesecake with Strawberry Topping</tspan><tspan x="712">| jello</tspan><tspan x="1088">|</tspan></text>
<use href="#w3-wednesday-border" y="168"/>
</g>

<g id="w3-thursday" transform="translate(0,3094)">
<text id="w3-thursday-border" y="21"><tspan x="8" textLength="216">+--------------------------</tspan><tspan x="224" textLength="416">+---------------------------------------------------</tspan><tspan x="640" textLength="224">+---------------------------</tspan><tspan x="864">+</tspan></text>
<text y="35"><tspan x="8">| Thursday &gt; breakfast</tspan><tspan x="224">| lunch</tspan><tspan x="640">| dinner</tspan><tspan x="864">|</tspan></text>
<text y="49"><tspan x="8" textLength="216">+==========================</tspan><tspan x="224" textLength="416">+===================================================</tspan><tspan x="640" textLength="224">+===========================</tspan><tspan x="864">+</tspan></text>
<text y="63"><tspan x="8">| Shakshuka for One</tspan><tspan x="224">| Balsamic Braised Pork Tenderloins with Fresh Figs</tspan><tspan x="640">| soy honey porkchops</tspan><tspan x="864">|</tspan></text>
<text y="77"><tspan x="8">| Perfect Pancakes</tspan><tspan x="224">| Honey Roasted Beets</tspan><tspan x="640">| white rice</tspan><tspan x="864">|</tspan></text>
<text y="91"><tspan x="8">| Orange French Toast Bake</tspan><tspan x="224">| honey roasted carrots</tspan><tspan x="640">| alfredo sauce pasta</tspan><tspan x="864">|</tspan></text>
<text y="105"><tspan x="8">|</tspan><tspan x="224">| Cucumber Salad with Labneh Za’atar and Mint</tspan><tspan x="640">| Pesto Aioli</tspan><tspan x="864">|</tspan></text>
<text y="119"><tspan x="8">|</tspan><tspan x="224">| Homemade Mini Cinnamon Rolls</tspan><tspan x="640">| zuchhini bread</tspan><tspan x="864">|</tspan></text>
<text y="133"><tspan x="8">|</tspan><tspan x="224">| --Salad--</tspan><tspan x="640">| --Salad--</tspan><tspan x="864">|</tspan></text>
<text y="147"><tspan x="8">|</tspan><tspan x="224">| Black Bean and Corn Salad</tspan><tspan x="640">| Greek-Style Chicken Salad</tspan><tspan x="864">|</tspan></text>
<text y="161"><tspan x="8">|</tspan><tspan x="224">| --Dessert--</tspan><tspan x="640">| --Dessert--</tspan><tspan x="864">|</tspan></text>
<text y="175"><tspan x="8">|</tspan><tspan x="224">| Strawberry Oreo Cheesecake</tspan><tspan x="640">| Rhubarb Snickerdoodles</tspan><tspan x="864">|</tspan></text>
<use href="#w3-thursday-border" y="168"/>
</g>

<g id="w3-friday" transform="translate(0,3276)">
<text id="w3-friday-border" y="21"><tspan x="8" textLength="232">+----------------------------</tspan><tspan x="240" textLength="320">+---------------------------------------</tspan><tspan x="560" textLength="376">+----------------------------------------------</tspan><tspan x="936">+</tspan></text>
<text y="35"><tspan x="8">| Friday &gt; breakfast</tspan><tspan x="240">| lunch</tspan><tspan x="560">| dinner</tspan><tspan x="936">|</tspan></text>
<text y="49"><tspan x="8" textLength="232">+============================</tspan><tspan x="240" textLength="320">+=======================================</tspan><tspan x="560" textLength="376">+==============================================</tspan><tspan x="936">+</tspan></text>
<text y="63"><tspan x="8">| oatmeal</tspan><tspan x="240">| chicken francaise</tspan><tspan x="560">| Ham and Split Pea Soup Recipe – A Great Soup</tspan><tspan x="936">|</tspan></text>
<text y="77"><tspan x="8">| Baked Yogurt Custard Toast</tspan><tspan x="240">| Spiced Roasted Okra with Mini Peppers</tspan><tspan x="560">| Air Fryer Smashed Potatoes</tspan><tspan x="936">|</tspan></text>
<text y="91"><tspan x="8">| montecristo sandwiches</tspan><tspan x="240">| vegetable casserole</tspan><tspan x="560">| red beans and rice</tspan><tspan x="936">|</tspan></text>
<text y="105"><tspan x="8">|</tspan><tspan x="240">| broccoli casserole</tspan><tspan x="560">| twice baked potatoes</tspan><tspan x="936">|</tspan></text>
<text y="119"><tspan x="8">|</tspan><tspan x="240">| dinner rolls</tspan><tspan x="560">| Plum and Pecan Muffins</tspan><tspan x="936">|</tspan></text>
<text y="133"><tspan x="8">|</tspan><tspan x="240">| --Salad--</tspan><tspan x="560">| --Salad--</tspan><tspan x="936">|</tspan></text>
<text y="147"><tspan x="8">|</tspan><tspan x="240">| Cucumber Tomato Salad</tspan><tspan x="560">| Carrot Raisin Salad</tspan><tspan x="936">|</tspan></text>
<text y="161"><tspan x="8">|</tspan><tspan x="240">| --Dessert--</tspan><tspan x="560">| --Dessert--</tspan><tspan x="936">|</tspan></text>
<text y="175"><tspan x="8">|</tspan><tspan x="240">| One Bowl Blackberry Cobbler</tspan><tspan x="560">| butterscotch cookies</tspan><tspan x="936">|</tspan></text>
<use href="#w3-friday-border" y="168"/>
</g>

<g id="w3-saturday" transform="translate(0,3458)">
<text id="w3-saturday-border" y="21"><tspan x="8" textLength="232">+----------------------------</tspan><tspan x="240" textLength="368">+---------------------------------------------</tspan><tspan x="608" textLength="272">+---------------------------------</tspan><tspan x="880">+</tspan></text>
<text y="35"><tspan x="8">| Saturday &gt; breakfast</tspan><tspan x="240">| lunch</tspan><tspan x="608">| dinner</tspan><tspan x="880">|</tspan></text>
<text y="49"><tspan x="8" textLength="232">+============================</tspan><tspan x="240" textLength="368">+=============================================</tspan><tspan x="608" textLength="272">+=================================</tspan><tspan x="880">+</tspan></text>
<text y="63"><tspan x="8">| Waffle House-Style Waffles</tspan><tspan x="240">| chicken tortellini alfredo</tspan><tspan x="608">| grilled chicken</tspan><tspan x="880">|</tspan></text>
<text y="77"><tspan x="8">| eggs benedict</tspan><tspan x="240">| Crispy Air Fryer Potato Bites</tspan><tspan x="608">| "Lemon Orzo</tspan><tspan x="880">|</tspan></text>
<text y="91"><tspan x="8">| Air Fryer Fried Eggs</tspan><tspan x="240">| Cucumber Salad with Labneh Za’atar and Mint</tspan><tspan x="608">| stuffed jalapenos</tspan><tspan x="880">|</tspan></text>
<text y="105"><tspan x="8">|</tspan><tspan x="240">| grilled corn on the cob</tspan><tspan x="608">| Air Fryer Truffle Polenta Fries</tspan><tspan x="880">|</tspan></text>
<text y="119"><tspan x="8">|</tspan><tspan x="240">| Jalapeno Cheddar Cornbread Muffins</tspan><tspan x="608">| mexican cornbread</tspan><tspan x="880">|</tspan></text>
<text y="133"><tspan x="8">|</tspan><tspan x="240">| --Salad--</tspan><tspan x="608">| --Salad--</tspan><tspan x="880">|</tspan></text>
<text y="147"><tspan x="8">|</tspan><tspan x="240">| Jamie's Cranberry Spinach Salad</tspan><tspan x="608">| Jamie's Cranberry Spinach Salad</tspan><tspan x="880">|</tspan></text>
<text y="161"><tspan x="8">|</tspan><tspan x="240">| --Dessert--</tspan><tspan x="608">| --Dessert--</tspan><tspan x="880">|</tspan></text>
<text y="175"><tspan x="8">|</tspan><tspan x="240">| banana nut muffins</tspan><tspan x="608">| brownies</tspan><tspan x="880">|</tspan></text>
<use href="#w3-saturday-border" y="168"/>
</g>

<g id="w3-sunday" transform="translate(0,3640)">
<text id="w3-sunday-border" y="21"><tspan x="8" textLength="264">+--------------------------------</tspan><tspan x="272" textLength="232">+----------------------------</tspan><tspan x="504" textLength="432">+-----------------------------------------------------</tspan><tspan x="936">+</tspan></text>
<text y="35"><tspan x="8">| Sunday &gt; breakfast</tspan><tspan x="272">| lunch</tspan><tspan x="504">| dinner</tspan><tspan x="936">|</tspan></text>
<text y="49"><tspan x="8" textLength="264">+================================</tspan><tspan x="272" textLength="232">+============================</tspan><tspan x="504" textLength="432">+=====================================================</tspan><tspan x="936">+</tspan></text>
<text y="63"><tspan x="8">| Bacon Egg and Cheese Sandwich</tspan><tspan x="272">| Homemade Lasagna</tspan><tspan x="504">| philly cheese steak</tspan><tspan x="936">|</tspan></text>
<text y="77"><tspan x="8">| Cinnamon Roll Pull-Apart Toast</tspan><tspan x="272">| Creamy Salsa Dressing</tspan><tspan x="504">| parmesian stuffed mushrooms</tspan><tspan x="936">|</tspan></text>
<text y="91"><tspan x="8">| Chorizo Breakfast Casserole</tspan><tspan x="272">| copper penny carrots</tspan><tspan x="504">| Candied Jalapeños</tspan><tspan x="936">|</tspan></text>
<text y="105"><tspan x="8">|</tspan><tspan x="272">| green beans</tspan><tspan x="504">| Garlic Mashed Cauliflower</tspan><tspan x="936">|</tspan></text>
<text y="119"><tspan x="8">|</tspan><tspan x="272">| Rhubarb Almond Muffins</tspan><tspan x="504">| How to Make Sourdough Bread with Levain</tspan><tspan x="936">|</tspan></text>
<text y="133"><tspan x="8">|</tspan><tspan x="272">| --Salad--</tspan><tspan x="504">| --Salad--</tspan><tspan x="936">|</tspan></text>
<text y="147"><tspan x="8">|</tspan><tspan x="272">| Carrot Raisin Salad</tspan><tspan x="504">| Italian Pasta Salad</tspan><tspan x="936">|</tspan></text>
<text y="161"><tspan x="8">|</tspan><tspan x="272">| --Dessert--</tspan><tspan x="504">| --Dessert--</tspan><tspan x="936">|</tspan></text>
<text y="175"><tspan x="8">|</tspan><tspan x="272">| Chocolate Chipless Cookies</tspan><tspan x="504">| Perfect Key Lime Pie with Coconut Rum Whipped Cream</tspan><tspan x="936">|</tspan></text>
<use href="#w3-sunday-border" y="168"/>
</g>

<g id="w4-monday" transform="translate(0,3822)">
<text id="w4-monday-border" y="21"><tspan x="8" textLength="272">+---------------------------------</tspan><tspan x="280" textLength="288">+-----------------------------------</tspan><tspan x="568" textLength="376">+----------------------------------------------</tspan><tspan x="944">+</tspan></text>
<text y="35"><tspan x="8">| Monday &gt; breakfast</tspan><tspan x="280">| lunch</tspan><tspan x="568">| dinner</tspan><tspan x="944">|</tspan></text>
<text y="49"><tspan x="8" textLength="272">+=================================</tspan><tspan x="280" textLength="288">+===================================</tspan><tspan x="568" textLength="376">+==============================================</tspan><tspan x="944">+</tspan></text>
<text y="63"><tspan x="8">| Air Fryer Waffle Egg in a Hole</tspan><tspan x="280">| One Pan Pasta with Bacon and Peas</tspan><tspan x="568">| hawaiian chicken</tspan><tspan x="944">|</tspan></text>
<text y="77"><tspan x="8">| stuffed crescents</tspan><tspan x="280">| Honey Roasted Beets</tspan><tspan x="568">| Skillet-Roasted Radishes with Mint Gremolata</tspan><tspan x="944">|</tspan></text>
<text y="91"><tspan x="8">| Chef John’s Tortilla de Patatas</tspan><tspan x="280">| sweet peas</tspan><tspan x="568">| Sauteed Red Cabbage</tspan><tspan x="944">|</tspan></text>
<text y="105"><tspan x="8">|</tspan><tspan x="280">| corn pudding</tspan><tspan x="568">| Lemon Orzo</tspan><tspan x="944">|</tspan></text>
<text y="119"><tspan x="8">|</tspan><tspan x="280">| mexican cornbread</tspan><tspan x="568">| Parmesan Chive Biscuits</tspan><tspan x="944">|</tspan></text>
<text y="133"><tspan x="8">|</tspan><tspan x="280">| --Salad--</tspan><tspan x="568">| --Salad--</tspan><tspan x="944">|</tspan></text>
<text y="147"><tspan x="8">|</tspan><tspan x="280">| Authentic Russian Salad 'Olivye'</tspan><tspan x="568">| Caprese Pasta with Thai Basil</tspan><tspan x="944">|</tspan></text>
<text y="161"><tspan x="8">|</tspan><tspan x="280">| --Dessert--</tspan><tspan x="568">| --Dessert--</tspan><tspan x="944">|</tspan></text>
<text y="175"><tspan x="8">|</tspan><tspan x="280">| Bougatsa</tspan><tspan x="568">| red velvet cake</tspan><tspan x="944">|</tspan></text>
<use href="#w4-monday-border" y="168"/>
</g>

<g id="w4-tuesday" transform="translate(0,4004)">
<text id="w4-tuesday-border" y="21"><tspan x="8" textLength="232">+----------------------------</tspan><tspan x="240" textLength="312">+--------------------------------------</tspan><tspan x="552" textLength="272">+---------------------------------</tspan><tspan x="824">+</tspan></text>
<text y="35"><tspan x="8">| Tuesday &gt; breakfast</tspan><tspan x="240">| lunch</tspan><tspan x="552">| dinner</tspan><tspan x="824">|</tspan></text>
<text y="49"><tspan x="8" textLength="232">+============================</tspan><tspan x="240" textLength="312">+======================================</tspan><tspan x="552" textLength="272">+=================================</tspan><tspan x="824">+</tspan></text>
<text y="63"><tspan x="8">| Cinnamon Roll Monkey Bread</tspan><tspan x="240">| chicken parmesian</tspan><tspan x="552">| brats and sauerkraut</tspan><tspan x="824">|</tspan></text>
<text y="77"><tspan x="8">| cheese grits</tspan><tspan x="240">| Cottage Cheese Taco Dressing</tspan><tspan x="552">| Lemon Orzo</tspan><tspan x="824">|</tspan></text>
<text y="91"><tspan x="8">| Crêpes Suzette</tspan><tspan x="240">| cheese sauce pasta</tspan><tspan x="552">| Air Fryer Truffle Polenta Fries</tspan><tspan x="824">|</tspan></text>
<text y="105"><tspan x="8">|</tspan><tspan x="240">| cowboy beans</tspan><tspan x="552">| alfredo sauce pasta</tspan><tspan x="824">|</tspan></text>
<text y="119"><tspan x="8">|</tspan><tspan x="240">| Brioche Col Tuppo (Sicilian Brioche)</tspan><tspan x="552">| Reuben Crescent Rolls</tspan><tspan x="824">|</tspan></text>
<text y="133"><tspan x="8">|</tspan><tspan x="240">| --Salad--</tspan><tspan x="552">| --Salad--</tspan><tspan x="824">|</tspan></text>
<text y="147"><tspan x="8">|</tspan><tspan x="240">| Classic Macaroni Salad</tspan><tspan x="552">| Roasted Cauliflower Salad</tspan><tspan x="824">|</tspan></text>
<text y="161"><tspan x="8">|</tspan><tspan x="240">| --Dessert--</tspan><tspan x="552">| --Dessert--</tspan><tspan x="824">|</tspan></text>
<text y="175"><tspan x="8">|</tspan><tspan x="240">| Easy Red White and Blue Trifle</tspan><tspan x="552">| Country Peach Dumplings</tspan><tspan x="824">|</tspan></text>
<use href="#w4-tuesday-border" y="168"/>
</g>

<g id="w4-wednesday" transform="translate(0,4186)">
<text id="w4-wednesday-border" y="21"><tspan x="8" textLength="344">+------------------------------------------</tspan><tspan x="352" textLength="496">+-------------------------------------------------------------</tspan><tspan x="848" textLength="384">+-----------------------------------------------</tspan><tspan x="1232">+</tspan></text>
<text y="35"><tspan x="8">| Wednesday &gt; breakfast</tspan><tspan x="352">| lunch</tspan><tspan x="848">| dinner</tspan><tspan x="1232">|</tspan></text>
<text y="49"><tspan x="8" textLength="344">+==========================================</tspan><tspan x="352" textLength="496">+=============================================================</tspan><tspan x="848" textLength="384">+===============================================</tspan><tspan x="1232">+</tspan></text>
<text y="63"><tspan x="8">| Lemon Cheesecake Creme Brulee Croissants</tspan><tspan x="352">| Prosciutto-Wrapped Pork Tenderloin with Crispy Sage</tspan><tspan x="848">| Japanese-Style Triple-Seared Steak</tspan><tspan x="1232">|</tspan></text>
<text y="77"><tspan x="8">| pancakes</tspan><tspan x="352">| Air Fryer Smashed Potatoes</tspan><tspan x="848">| stuffed jalapenos</tspan><tspan x="1232">|</tspan></text>
<text y="91"><tspan x="8">| Chorizo Breakfast Casserole</tspan><tspan x="352">| sweet potato casserole</tspan><tspan x="848">| Candied Jalapeños</tspan><tspan x="1232">|</tspan></text>
<text y="105"><tspan x="8">|</tspan><tspan x="352">| tater tot casserole</tspan><tspan x="848">| Lemon Tahini Dressing</tspan><tspan x="1232">|</tspan></text>
<text y="119"><tspan x="8">|</tspan><tspan x="352">| Grandma's Best Zucchini Bread</tspan><tspan x="848">| Orange Cinnamon Rolls</tspan><tspan x="1232">|</tspan></text>
<text y="133"><tspan x="8">|</tspan><tspan x="352">| --Salad--</tspan><tspan x="848">| --Salad--</tspan><tspan x="1232">|</tspan></text>
<text y="147"><tspan x="8">|</tspan><tspan x="352">| Best Homemade Caesar Salad Dressing</tspan><tspan x="848">| Grilled Radicchio and Avocado Salad with Zhug</tspan><tspan x="1232">|</tspan></text>
<text y="161"><tspan x="8">|</tspan><tspan x="352">| --Dessert--</tspan><tspan x="848">| --Dessert--</tspan><tspan x="1232">|</tspan></text>
<text y="175"><tspan x="8">|</tspan><tspan x="352">| "Quick 2-Ingredient Nutella Hotteok (Korean Sweet Pancakes)</tspan><tspan x="848">| Blender Chocolate Mousse</tspan><tspan x="1232">|</tspan></text>
<use href="#w4-wednesday-border" y="168"/>
</g>

<g id="w4-thursday" transform="translate(0,4368)">
<text id="w4-thursday-border" y="21"><tspan x="8" textLength="264">+--------------------------------</tspan><tspan x="272" textLength="552">+--------------------------------------------------------------------</tspan><tspan x="824" textLength="264">+--------------------------------</tspan><tspan x="1088">+</tspan></text>
<text y="35"><tspan x="8">| Thursday &gt; breakfast</tspan><tspan x="272">| lunch</tspan><tspan x="824">| dinner</tspan><tspan x="1088">|</tspan></text>
<text y="49"><tspan x="8" textLength="264">+================================</tspan><tspan x="272" textLength="552">+====================================================================</tspan><tspan x="824" textLength="264">+================================</tspan><tspan x="1088">+</tspan></text>
<text y="63"><tspan x="8">| breakfast casserole</tspan><tspan x="272">| I Made Trisha Yearwood's Charleston Cheese Dip and It's Dip Heaven</tspan><tspan x="824">| Strawberry Balsamic Pork Chops</tspan><tspan x="1088">|</tspan></text>
<text y="77"><tspan x="8">| french toast casserole</tspan><tspan x="272">| potato cakes</tspan><tspan x="824">| Million Dollar Potato Salad</tspan><tspan x="1088">|</tspan></text>
<text y="91"><tspan x="8">| Air Fryer Waffle Egg in a Hole</tspan><tspan x="272">| Instant Pot Leek Mashed Potatoes</tspan><tspan x="824">| chicken casserole</tspan><tspan x="1088">|</tspan></text>
<text y="105"><tspan x="8">|</tspan><tspan x="272">| green bean casserole</tspan><tspan x="824">| honey roasted carrots</tspan><tspan x="1088">|</tspan></text>
<text y="119"><tspan x="8">|</tspan><tspan x="272">| Peanut Butter Banana Muffins</tspan><tspan x="824">| Green Onion Garlic Naan Bread</tspan><tspan x="1088">|</tspan></text>
<text y="133"><tspan x="8">|</tspan><tspan x="272">| --Salad--</tspan><tspan x="824">| --Salad--</tspan><tspan x="1088">|</tspan></text>
<text y="147"><tspan x="8">|</tspan><tspan x="272">| Coronation Chicken</tspan><tspan x="824">| Delicious Egg Salad</tspan><tspan x="1088">|</tspan></text>
<text y="161"><tspan x="8">|</tspan><tspan x="272">| --Dessert--</tspan><tspan x="824">| --Dessert--</tspan><tspan x="1088">|</tspan></text>
<text y="175"><tspan x="8">|</tspan><tspan x="272">| butterfinger cake</tspan><tspan x="824">| Bougatsa</tspan><tspan x="1088">|</tspan></text>
<use href="#w4-thursday-border" y="168"/>
</g>

<g id="w4-friday" transform="translate(0,4550)">
<text id="w4-friday-border" y="21"><tspan x="8" textLength="368">+---------------------------------------------</tspan><tspan x="376" textLength="376">+----------------------------------------------</tspan><tspan x="752" textLength="352">+-------------------------------------------</tspan><tspan x="1104">+</tspan></text>
<text y="35"><tspan x="8">| Friday &gt; breakfast</tspan><tspan x="376">| lunch</tspan><tspan x="752">| dinner</tspan><tspan x="1104">|</tspan></text>
<text y="49"><tspan x="8" textLength="368">+=============================================</tspan><tspan x="376" textLength="376">+==============================================</tspan><tspan x="752" textLength="352">+===========================================</tspan><tspan x="1104">+</tspan></text>
<text y="63"><tspan x="8">| Baked Breakfast Taquitos</tspan><tspan x="376">| brats and sauerkraut</tspan><tspan x="752">| grilled porkchops</tspan><tspan x="1104">|</tspan></text>
<text y="77"><tspan x="8">| Breakfast Burrito with Potatoes and Chorizo</tspan><tspan x="376">| alfredo sauce pasta</tspan><tspan x="752">| Sugar Snap Peas with Peanut Dipping Sauce</tspan><tspan x="1104">|</tspan></text>
<text y="91"><tspan x="8">| Tres Leches Pancakes</tspan><tspan x="376">| Skillet-Roasted Radishes with Mint Gremolata</tspan><tspan x="752">| asparagus</tspan><tspan x="1104">|</tspan></text>
<text y="105"><tspan x="8">|</tspan><tspan x="376">| parmesian corn</tspan><tspan x="752">| tomato sauce pasta</tspan><tspan x="1104">|</tspan></text>
<text y="119"><tspan x="8">|</tspan><tspan x="376">| Pretzel Crust Pizza</tspan><tspan x="752">| Baked Apple Fritters</tspan><tspan x="1104">|</tspan></text>
<text y="133"><tspan x="8">|</tspan><tspan x="376">| --Salad--</tspan><tspan x="752">| --Salad--</tspan><tspan x="1104">|</tspan></text>
<text y="147"><tspan x="8">|</tspan><tspan x="376">| Perfect Summer Fruit Salad</tspan><tspan x="752">| California Spaghetti Salad</tspan><tspan x="1104">|</tspan></text>
<text y="161"><tspan x="8">|</tspan><tspan x="376">| --Dessert--</tspan><tspan x="752">| --Dessert--</tspan><tspan x="1104">|</tspan></text>
<text y="175"><tspan x="8">|</tspan><tspan x="376">| orange cake</tspan><tspan x="752">| Sawdust Pie</tspan><tspan x="1104">|</tspan></text>
<use href="#w4-friday-border" y="168"/>
</g>

<g id="w4-saturday" transform="translate(0,4732)">
<text id="w4-saturday-border" y="21"><tspan x="8" textLength="200">+------------------------</tspan><tspan x="208" textLength="312">+--------------------------------------</tspan><tspan x="520" textLength="288">+-----------------------------------</tspan><tspan x="808">+</tspan></text>
<text y="35"><tspan x="8">| Saturday &gt; breakfast</tspan><tspan x="208">| lunch</tspan><tspan x="520">| dinner</tspan><tspan x="808">|</tspan></text>
<text y="49"><tspan x="8" textLength="200">+========================</tspan><tspan x="208" textLength="312">+======================================</tspan><tspan x="520" textLength="288">+===================================</tspan><tspan x="808">+</tspan></text>
<text y="63"><tspan x="8">| Naked Eggs Benedict</tspan><tspan x="208">| hawaiian chicken</tspan><tspan x="520">| outback chicken</tspan><tspan x="808">|</tspan></text>
<text y="77"><tspan x="8">| Mexican Oatmeal</tspan><tspan x="208">| Microwave Mexican Rice</tspan><tspan x="520">| potato cakes</tspan><tspan x="808">|</tspan></text>
<text y="91"><tspan x="8">| Coconut Overnight Oats</tspan><tspan x="208">| bacon wrapped asparagus</tspan><tspan x="520">| Sweet and Spicy Baked Cauliflower</tspan><tspan x="808">|</tspan></text>
<text y="105"><tspan x="8">|</tspan><tspan x="208">| Honey Roasted Beets</tspan><tspan x="520">| Sweet and Spicy Baked Cauliflower</tspan><tspan x="808">|</tspan></text>
<text y="119"><tspan x="8">|</tspan><tspan x="208">| Crescent Roll Pretzels</tspan><tspan x="520">| Copycat Texas Roadhouse Rolls</tspan><tspan x="808">|</tspan></text>
<text y="133"><tspan x="8">|</tspan><tspan x="208">| --Salad--</tspan><tspan x="520">| --Salad--</tspan><tspan x="808">|</tspan></text>
<text y="147"><tspan x="8">|</tspan><tspan x="208">| Charred Red Cabbage and Carrot Salad</tspan><tspan x="520">| Waldorf Salad</tspan><tspan x="808">|</tspan></text>
<text y="161"><tspan x="8">|</tspan><tspan x="208">| --Dessert--</tspan><tspan x="520">| --Dessert--</tspan><tspan x="808">|</tspan></text>
<text y="175"><tspan x="8">|</tspan><tspan x="208">| layer brownies</tspan><tspan x="520">| Blender Chocolate Mousse</tspan><tspan x="808">|</tspan></text>
<use href="#w4-saturday-border" y="168"/>
</g>

<g id="w4-sunday" transform="translate(0,4914)">
<text id="w4-sunday-border" y="21"><tspan x="8" textLength="184">+----------------------</tspan><tspan x="192" textLength="336">+-----------------------------------------</tspan><tspan x="528" textLength="584">+------------------------------------------------------------------------</tspan><tspan x="1112">+</tspan></text>
<text y="35"><tspan x="8">| Sunday &gt; breakfast</tspan><tspan x="192">| lunch</tspan><tspan x="528">| dinner</tspan><tspan x="1112">|</tspan></text>
<text y="49"><tspan x="8" textLength="184">+======================</tspan><tspan x="192" textLength="336">+=========================================</tspan><tspan x="528" textLength="584">+========================================================================</tspan><tspan x="1112">+</tspan></text>
<text y="63"><tspan x="8">| omelets</tspan><tspan x="192">| Jalapeno Popper Pig Shots</tspan><tspan x="528">| Bacon-Wrapped Cherries</tspan><tspan x="1112">|</tspan></text>
<text y="77"><tspan x="8">| Perfect Pancakes</tspan><tspan x="192">| mexican street corn</tspan><tspan x="528">| Spiced Roasted Okra with Mini Peppers</tspan><tspan x="1112">|</tspan></text>
<text y="91"><tspan x="8">| cheese grits</tspan><tspan x="192">| Spinach Feta and Rice Casserole</tspan><tspan x="528">| Creamy Salsa Dressing</tspan><tspan x="1112">|</tspan></text>
<text y="105"><tspan x="8">|</tspan><tspan x="192">| Crunchy Quick Refrigerator Dill Pickles</tspan><tspan x="528">| Green Goddess Pasta Salad Is the Only Thing We’re Bringing to Potlucks</tspan><tspan x="1112">|</tspan></text>
<text y="119"><tspan x="8">|</tspan><tspan x="192">| Fruit Pizza Chopped Bagel</tspan><tspan x="528">| Orange Cinnamon Rolls</tspan><tspan x="1112">|</tspan></text>
<text y="133"><tspan x="8">|</tspan><tspan x="192">| --Salad--</tspan><tspan x="528">| --Salad--</tspan><tspan x="1112">|</tspan></text>
<text y="147"><tspan x="8">|</tspan><tspan x="192">| Greek Orzo Salad</tspan><tspan x="528">| Hearts of Palm and Avocado Salad</tspan><tspan x="1112">|</tspan></text>
<text y="161"><tspan x="8">|</tspan><tspan x="192">| --Dessert--</tspan><tspan x="528">| --Dessert--</tspan><tspan x="1112">|</tspan></text>
<text y="175"><tspan x="8">|</tspan><tspan x="192">| Peach Custard Pie</tspan><tspan x="528">| Lemon Raspberry Cake</tspan><tspan x="1112">|</tspan></text>
<use href="#w4-sunday-border" y="168"/>
</g>

<g id="w5-monday" transform="translate(0,5096)">
<text id="w5-monday-border" y="21"><tspan x="8" textLength="232">+----------------------------</tspan><tspan x="240" textLength="320">+---------------------------------------</tspan><tspan x="560" textLength="376">+----------------------------------------------</tspan><tspan x="936">+</tspan></text>
<text y="35"><tspan x="8">| Monday &gt; breakfast</tspan><tspan x="240">| lunch</tspan><tspan x="560">| dinner</tspan><tspan x="936">|</tspan></text>
<text y="49"><tspan x="8" textLength="232">+============================</tspan><tspan x="240" textLength="320">+=======================================</tspan><tspan x="560" textLength="376">+==============================================</tspan><tspan x="936">+</tspan></text>
<text y="63"><tspan x="8">| Cheesecake Pancakes</tspan><tspan x="240">| Creamy Slow Cooker Potato Cheese Soup</tspan><tspan x="560">| Bloody Mary Pork Tacos</tspan><tspan x="936">|</tspan></text>
<text y="77"><tspan x="8">| Baked Yogurt Custard Toast</tspan><tspan x="240">| asparagus</tspan><tspan x="560">| sweet peas</tspan><tspan x="936">|</tspan></text>
<text y="91"><tspan x="8">| oatmeal</tspan><tspan x="240">| Creamy Salsa Dressing</tspan><tspan x="560">| Air Fryer Truffle Polenta Fries</tspan><tspan x="936">|</tspan></text>
<text y="105"><tspan x="8">|</tspan><tspan x="240">| Ultimate Lowcountry Shrimp and Grits</tspan><tspan x="560">| Roasted Asparagus with Hollandaise Sauce</tspan><tspan x="936">|</tspan></text>
<text y="119"><tspan x="8">|</tspan><tspan x="240">| Rhubarb Almond Muffins</tspan><tspan x="560">| Classic Glazed Doughnuts</tspan><tspan x="936">|</tspan></text>
<text y="133"><tspan x="8">|</tspan><tspan x="240">| --Salad--</tspan><tspan x="560">| --Salad--</tspan><tspan x="936">|</tspan></text>
<text y="147"><tspan x="8">|</tspan><tspan x="240">| Crispy Buffalo Potato Salad</tspan><tspan x="560">| Cold Green Bean Salad with Lemon Vinaigrette</tspan><tspan x="936">|</tspan></text>
<text y="161"><tspan x="8">|</tspan><tspan x="240">| --Dessert--</tspan><tspan x="560">| --Dessert--</tspan><tspan x="936">|</tspan></text>
<text y="175"><tspan x="8">|</tspan><tspan x="240">| Vanilla Crème Brûlée</tspan><tspan x="560">| Balsamic Strawberries</tspan><tspan x="936">|</tspan></text>
<use href="#w5-monday-border" y="168"/>
</g>

<g id="w5-tuesday" transform="translate(0,5278)">
<text id="w5-tuesday-border" y="21"><tspan x="8" textLength="368">+---------------------------------------------</tspan><tspan x="376" textLength="296">+------------------------------------</tspan><tspan x="672" textLength="232">+----------------------------</tspan><tspan x="904">+</tspan></text>
<text y="35"><tspan x="8">| Tuesday &gt; breakfast</tspan><tspan x="376">| lunch</tspan><tspan x="672">| dinner</tspan><tspan x="904">|</tspan></text>
<text y="49"><tspan x="8" textLength="368">+=============================================</tspan><tspan x="376" textLength="296">+====================================</tspan><tspan x="672" textLength="232">+============================</tspan><tspan x="904">+</tspan></text>
<text y="63"><tspan x="8">| breakfast burritos</tspan><tspan x="376">| Jalapeno Popper Potato Salad</tspan><tspan x="672">| Calico Beans</tspan><tspan x="904">|</tspan></text>
<text y="77"><tspan x="8">| Air Fryer Spinach Pepper and Feta Egg Bites</tspan><tspan x="376">| Lemon Orzo</tspan><tspan x="672">| Chili Oil Smashed Potatoes</tspan><tspan x="904">|</tspan></text>
<text y="91"><tspan x="8">| Shakshuka for One</tspan><tspan x="376">| Air Fryer Truffle Polenta Fries</tspan><tspan x="672">| mexican street corn</tspan><tspan x="904">|</tspan></text>
<text y="105"><tspan x="8">|</tspan><tspan x="376">| Crispy Air Fryer Potato Bites</tspan><tspan x="672">| potato cakes</tspan><tspan x="904">|</tspan></text>
<text y="119"><tspan x="8">|</tspan><tspan x="376">| Jalapeno Cheddar Cornbread Muffins</tspan><tspan x="672">| cheddar biscuits</tspan><tspan x="904">|</tspan></text>
<text y="133"><tspan x="8">|</tspan><tspan x="376">| --Salad--</tspan><tspan x="672">| --Salad--</tspan><tspan x="904">|</tspan></text>
<text y="147"><tspan x="8">|</tspan><tspan x="376">| Three Bean Salad</tspan><tspan x="672">| Copycat KFC Coleslaw</tspan><tspan x="904">|</tspan></text>
<text y="161"><tspan x="8">|</tspan><tspan x="376">| --Dessert--</tspan><tspan x="672">| --Dessert--</tspan><tspan x="904">|</tspan></text>
<text y="175"><tspan x="8">|</tspan><tspan x="376">| Strawberry Mousse Shooters</tspan><tspan x="672">| butterfinger cake</tspan><tspan x="904">|</tspan></text>
<use href="#w5-tuesday-border" y="168"/>
</g>
</svg>
